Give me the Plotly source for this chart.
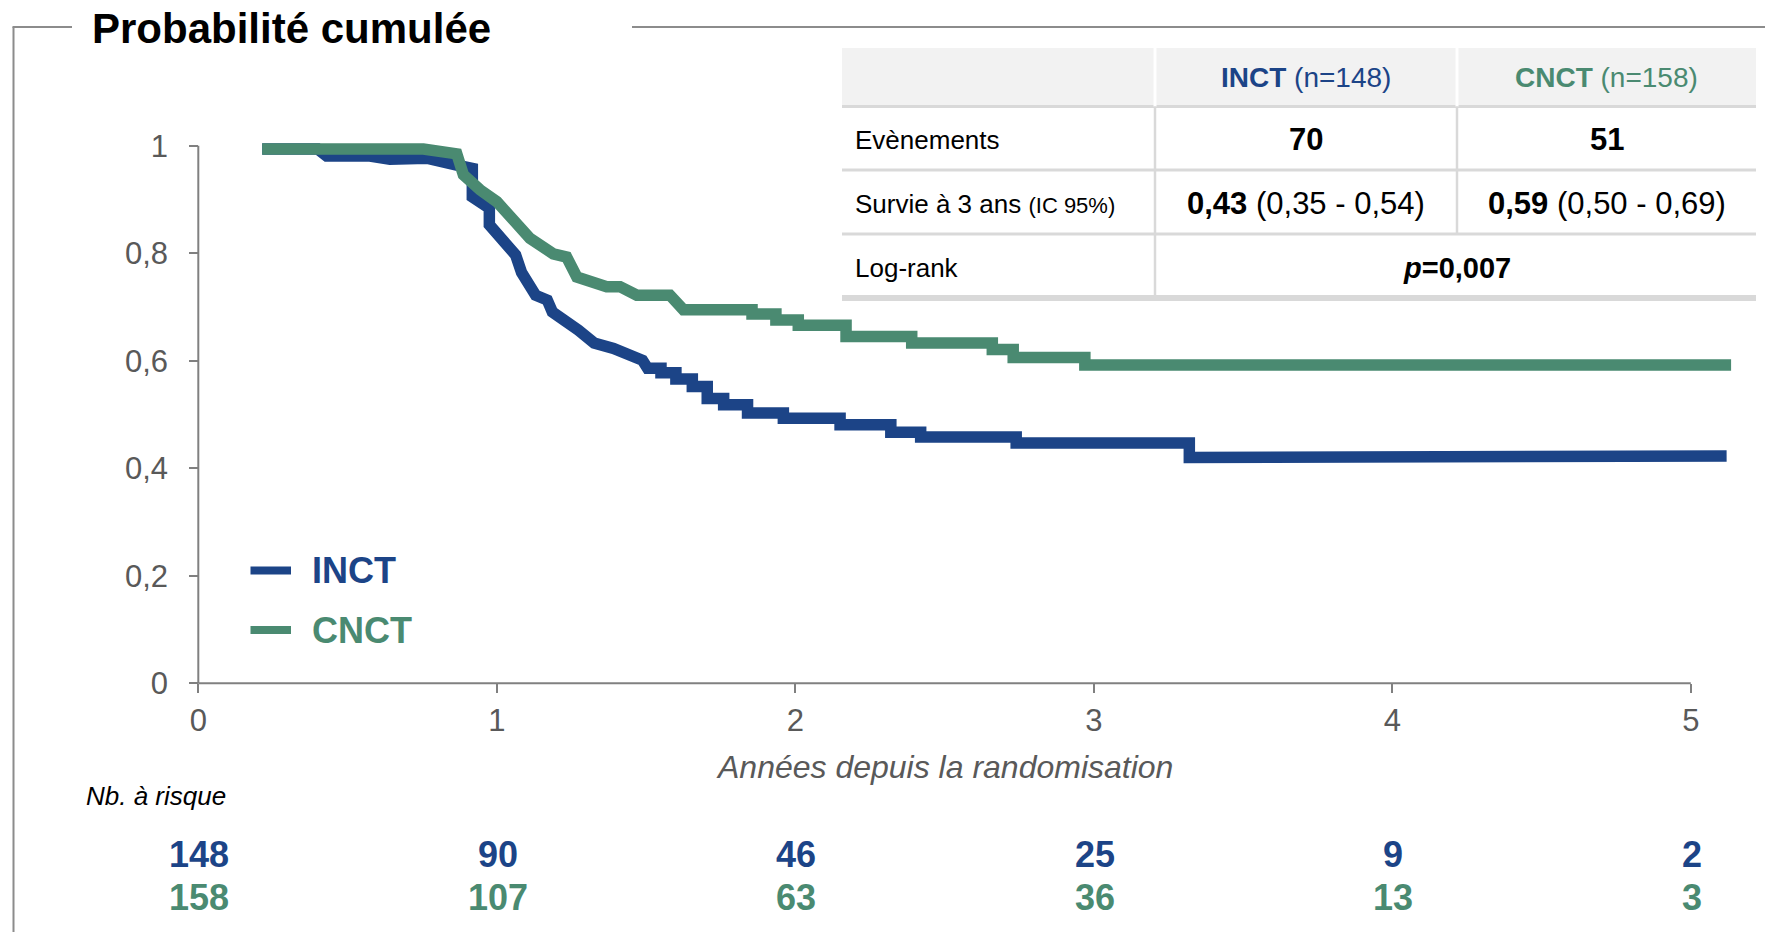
import plotly.graph_objects as go

W, H = 1765, 932
BLUE = "#1c4487"
GREEN = "#4a8a71"
FONT = "Liberation Sans, Arial, sans-serif"

# ---------------- data ----------------
inct_t = [0.214, 0.400, 0.430, 0.575, 0.642, 0.765, 0.866, 0.918, 0.918, 0.975, 0.975,
          1.063, 1.083, 1.130, 1.169, 1.186, 1.273, 1.326, 1.391, 1.488, 1.505,
          1.55, 1.55, 1.60, 1.60, 1.655, 1.655, 1.705, 1.705, 1.76, 1.76, 1.84, 1.84,
          1.96, 1.96, 2.15, 2.15, 2.32, 2.32, 2.42, 2.42, 2.74, 2.74, 3.32, 3.32, 5.12]
inct_s = [0.994, 0.994, 0.981, 0.981, 0.975, 0.977, 0.964, 0.958, 0.905, 0.884, 0.853,
          0.797, 0.764, 0.722, 0.713, 0.691, 0.657, 0.633, 0.623, 0.601, 0.586,
          0.586, 0.578, 0.578, 0.566, 0.566, 0.552, 0.552, 0.530, 0.530, 0.518, 0.518, 0.503,
          0.503, 0.493, 0.493, 0.481, 0.481, 0.467, 0.467, 0.458, 0.458, 0.447, 0.447, 0.420, 0.423]

cnct_t = [0.214, 0.754, 0.866, 0.888, 0.944, 1.000, 1.111, 1.189, 1.234, 1.268, 1.368,
          1.413, 1.469, 1.580, 1.625, 1.855, 1.855, 1.935, 1.935, 2.01, 2.01, 2.17, 2.17,
          2.39, 2.39, 2.66, 2.66, 2.73, 2.73, 2.97, 2.97, 5.135]
cnct_s = [0.994, 0.994, 0.985, 0.946, 0.918, 0.896, 0.828, 0.799, 0.793, 0.756, 0.738,
          0.738, 0.722, 0.722, 0.695, 0.695, 0.687, 0.687, 0.676, 0.676, 0.666, 0.666, 0.645,
          0.645, 0.633, 0.633, 0.621, 0.621, 0.606, 0.606, 0.592, 0.592]

years = [0, 1, 2, 3, 4, 5]
inct_risk = [148, 90, 46, 25, 9, 2]
cnct_risk = [158, 107, 63, 36, 13, 3]
y_ticks = [0, 0.2, 0.4, 0.6, 0.8, 1]
y_ticklabels = ["0", "0,2", "0,4", "0,6", "0,8", "1"]
x_ticklabels = ["0", "1", "2", "3", "4", "5"]

groups = ["INCT", "CNCT"]
group_n = [148, 158]
row_labels = ["Evènements", "Survie à 3 ans <span style='font-size:22px'>(IC 95%)</span>", "Log-rank"]
events = ["70", "51"]
surv3_est = ["0,43", "0,59"]
surv3_ci = ["(0,35 - 0,54)", "(0,50 - 0,69)"]
logrank_p = "0,007"

title = "Probabilité cumulée"
xtitle = "Années depuis la randomisation"
risk_title = "Nb. à risque"

# ---------------- helpers (pixel -> paper) ----------------
def px(x):
    return x / W

def py(y):
    return 1 - y / H

X0, PPY = 198.3, 298.5       # pixel of year 0, pixels per year
Y0, PPU = 683.3, 537.5       # pixel of S=0, pixels per unit
XR = [-0.3, 5.2]
YR = [-0.05, 1.1]

fig = go.Figure()
fig.add_trace(go.Scatter(x=inct_t, y=inct_s, mode="lines", name="INCT",
                         line=dict(color=BLUE, width=11.5), showlegend=False, hoverinfo="skip"))
fig.add_trace(go.Scatter(x=cnct_t, y=cnct_s, mode="lines", name="CNCT",
                         line=dict(color=GREEN, width=11.5), showlegend=False, hoverinfo="skip"))

tickfont = dict(family=FONT, size=31, color="#595959")
fig.update_layout(
    width=W, height=H, margin=dict(l=0, r=0, t=0, b=0),
    paper_bgcolor="white", plot_bgcolor="rgba(0,0,0,0)",
    xaxis=dict(range=XR, domain=[px(X0 + XR[0] * PPY), px(X0 + XR[1] * PPY)],
               anchor="free", position=py(Y0),
               tickvals=years, ticktext=x_ticklabels, ticks="outside", ticklen=9,
               tickwidth=2, tickcolor="#808080", showline=False, showgrid=False,
               zeroline=False, tickfont=tickfont),
    yaxis=dict(range=YR, domain=[py(Y0 - YR[0] * PPU), py(Y0 - YR[1] * PPU)],
               anchor="free", position=px(X0),
               tickvals=y_ticks, ticktext=y_ticklabels, ticks="outside", ticklen=9,
               tickwidth=2, tickcolor="#808080", showline=False, showgrid=False,
               zeroline=False, tickfont=tickfont, ticklabelstandoff=15),
    showlegend=False,
)

shapes = []
annotations = []
AX = "#808080"
# axis lines (0..5, 0..1)
shapes.append(dict(type="line", xref="x", yref="y", x0=0, x1=5, y0=0, y1=0,
                   line=dict(color=AX, width=2), layer="below"))
shapes.append(dict(type="line", xref="x", yref="y", x0=0, x1=0, y0=0, y1=1,
                   line=dict(color=AX, width=2), layer="below"))

# frame
FR = "#8c8c8c"
shapes.append(dict(type="line", xref="paper", yref="paper", x0=px(13.5), x1=px(13.5),
                   y0=py(27), y1=py(935), line=dict(color=FR, width=2)))
shapes.append(dict(type="line", xref="paper", yref="paper", x0=px(12.5), x1=px(72),
                   y0=py(27), y1=py(27), line=dict(color=FR, width=2)))
shapes.append(dict(type="line", xref="paper", yref="paper", x0=px(632), x1=px(1767),
                   y0=py(27), y1=py(27), line=dict(color=FR, width=2)))

annotations.append(dict(xref="paper", yref="paper", x=px(90), y=py(28), xanchor="left",
                        yanchor="middle", showarrow=False, text="<b>" + title + "</b>",
                        font=dict(family=FONT, size=42, color="black")))

# axis title
annotations.append(dict(xref="x", yref="paper", x=2.5, y=py(767), xanchor="center",
                        yanchor="middle", showarrow=False, text="<i>" + xtitle + "</i>",
                        font=dict(family=FONT, size=32, color="#595959")))

# number at risk
annotations.append(dict(xref="paper", yref="paper", x=px(84), y=py(796), xanchor="left",
                        yanchor="middle", showarrow=False, text="<i>" + risk_title + "</i>",
                        font=dict(family=FONT, size=26, color="black")))
for yr, a, b in zip(years, inct_risk, cnct_risk):
    annotations.append(dict(xref="x", yref="paper", x=yr, y=py(854), xanchor="center",
                            yanchor="middle", showarrow=False, text="<b>%d</b>" % a, xshift=1,
                            font=dict(family=FONT, size=36, color=BLUE)))
    annotations.append(dict(xref="x", yref="paper", x=yr, y=py(897), xanchor="center",
                            yanchor="middle", showarrow=False, text="<b>%d</b>" % b, xshift=1,
                            font=dict(family=FONT, size=36, color=GREEN)))

# legend
for name, col, yy in [(groups[0], BLUE, 570.5), (groups[1], GREEN, 630)]:
    shapes.append(dict(type="line", xref="paper", yref="paper", x0=px(250.5), x1=px(291),
                       y0=py(yy), y1=py(yy), line=dict(color=col, width=8)))
    annotations.append(dict(xref="paper", yref="paper", x=px(310), y=py(yy), xanchor="left",
                            yanchor="middle", showarrow=False, text="<b>" + name + "</b>",
                            font=dict(family=FONT, size=36, color=col)))

# table
TL, TR = 842, 1756
C1, C2 = 1155, 1457
RY = [48, 106.5, 170, 234, 298]
GR = "#d9d9d9"
shapes.append(dict(type="rect", xref="paper", yref="paper", x0=px(TL), x1=px(TR),
                   y0=py(RY[0]), y1=py(RY[1]), fillcolor="#f2f2f2", line=dict(width=0),
                   layer="below"))
for i, yy in enumerate(RY[1:]):
    shapes.append(dict(type="line", xref="paper", yref="paper", x0=px(TL), x1=px(TR),
                       y0=py(yy), y1=py(yy), line=dict(color=GR, width=6 if i == 3 else 3)))
# vertical separators
shapes.append(dict(type="line", xref="paper", yref="paper", x0=px(C1), x1=px(C1),
                   y0=py(RY[0]), y1=py(RY[1]), line=dict(color="white", width=3)))
shapes.append(dict(type="line", xref="paper", yref="paper", x0=px(C2), x1=px(C2),
                   y0=py(RY[0]), y1=py(RY[1]), line=dict(color="white", width=3)))
shapes.append(dict(type="line", xref="paper", yref="paper", x0=px(C1), x1=px(C1),
                   y0=py(RY[1]), y1=py(RY[4]), line=dict(color=GR, width=2.5)))
shapes.append(dict(type="line", xref="paper", yref="paper", x0=px(C2), x1=px(C2),
                   y0=py(RY[1]), y1=py(RY[3]), line=dict(color=GR, width=2.5)))

col_c = [(C1 + C2) / 2, (C2 + TR) / 2]
row_c = [77.7, 139.6, 203.7, 268]
for g, n, col, cx in zip(groups, group_n, [BLUE, GREEN], col_c):
    annotations.append(dict(xref="paper", yref="paper", x=px(cx), y=py(row_c[0]),
                            xanchor="center", yanchor="middle", showarrow=False,
                            text="<b>%s</b> (n=%d)" % (g, n),
                            font=dict(family=FONT, size=28, color=col)))
for lab, ry in zip(row_labels, row_c[1:]):
    annotations.append(dict(xref="paper", yref="paper", x=px(853), y=py(ry),
                            xanchor="left", yanchor="middle", showarrow=False, text=lab,
                            font=dict(family=FONT, size=26, color="black")))
for ev, est, ci, cx in zip(events, surv3_est, surv3_ci, col_c):
    annotations.append(dict(xref="paper", yref="paper", x=px(cx), y=py(row_c[1]),
                            xanchor="center", yanchor="middle", showarrow=False,
                            text="<b>" + ev + "</b>",
                            font=dict(family=FONT, size=31, color="black")))
    annotations.append(dict(xref="paper", yref="paper", x=px(cx), y=py(row_c[2]),
                            xanchor="center", yanchor="middle", showarrow=False,
                            text="<b>" + est + "</b> " + ci,
                            font=dict(family=FONT, size=31, color="black")))
annotations.append(dict(xref="paper", yref="paper", x=px(C2), y=py(row_c[3]),
                        xanchor="center", yanchor="middle", showarrow=False,
                        text="<b><i>p</i>=" + logrank_p + "</b>",
                        font=dict(family=FONT, size=29, color="black")))

fig.update_layout(shapes=shapes, annotations=annotations)
fig.write_html("out.html", config={"displayModeBar": False},
               post_script="document.body.style.margin='0';")
